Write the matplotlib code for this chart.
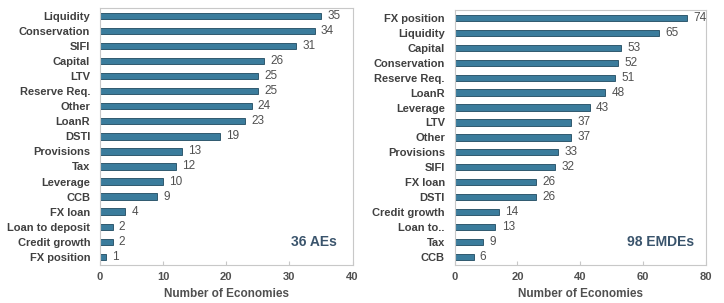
import matplotlib
matplotlib.use("Agg")
import matplotlib.pyplot as plt

plt.rcParams['font.family'] = ['Liberation Sans', 'DejaVu Sans']

ae_cats = ["Liquidity", "Conservation", "SIFI", "Capital", "LTV", "Reserve Req.", "Other",
           "LoanR", "DSTI", "Provisions", "Tax", "Leverage", "CCB", "FX loan",
           "Loan to deposit", "Credit growth", "FX position"]
ae_vals = [35, 34, 31, 26, 25, 25, 24, 23, 19, 13, 12, 10, 9, 4, 2, 2, 1]

em_cats = ["FX position", "Liquidity", "Capital", "Conservation", "Reserve Req.", "LoanR",
           "Leverage", "LTV", "Other", "Provisions", "SIFI", "FX loan", "DSTI",
           "Credit growth", "Loan to..", "Tax", "CCB"]
em_vals = [74, 65, 53, 52, 51, 48, 43, 37, 37, 33, 32, 26, 26, 14, 13, 9, 6]

ae_ticks = [0, 10, 20, 30, 40]
em_ticks = [0, 20, 40, 60, 80]

fig = plt.figure(figsize=(7.24, 3.03), dpi=100)
bar_c = "#3B7C9C"
edge_c = "#1F4A60"
txt_c = "#404040"
frame_c = "#C8C8C8"

def panel(rect, cats, vals, ticks, pad):
    ax = fig.add_axes(rect)
    y = list(range(len(cats)))
    ax.barh(y, vals, height=0.42, color=bar_c, edgecolor=edge_c, linewidth=0.6)
    ax.set_ylim(len(cats) - 0.45, -0.55)
    ax.set_xlim(ticks[0], ticks[-1])
    ax.set_xticks(ticks)
    ax.set_yticks(y)
    ax.set_yticklabels(cats, fontsize=8, fontweight='bold', color=txt_c)
    ax.set_xticklabels([str(t) for t in ticks], fontsize=8, fontweight='bold', color="#505050")
    ax.tick_params(axis='x', direction='in', length=3, color=frame_c, pad=5)
    ax.tick_params(axis='y', length=0, pad=7)
    for s in ax.spines.values():
        s.set_color(frame_c)
        s.set_linewidth(0.8)
    for yi, v in zip(y, vals):
        ax.text(v + pad, yi, str(v), va='center', ha='left', fontsize=8.5, color="#505050")
    ax.set_xlabel("Number of Economies", fontsize=8.5, fontweight='bold', color="#505050", labelpad=4)
    return ax

ax1 = panel([0.138, 0.125, 0.349, 0.850], ae_cats, ae_vals, ae_ticks, 1.0)
ax1.text(0.937, 0.09, "36 AEs", transform=ax1.transAxes, ha='right', va='center',
         fontsize=10, fontweight='bold', color="#3A546C")
ax2 = panel([0.628, 0.125, 0.347, 0.843], em_cats, em_vals, em_ticks, 2.0)
ax2.text(0.952, 0.09, "98 EMDEs", transform=ax2.transAxes, ha='right', va='center',
         fontsize=10, fontweight='bold', color="#3A546C")

fig.savefig("out.png", dpi=100)
